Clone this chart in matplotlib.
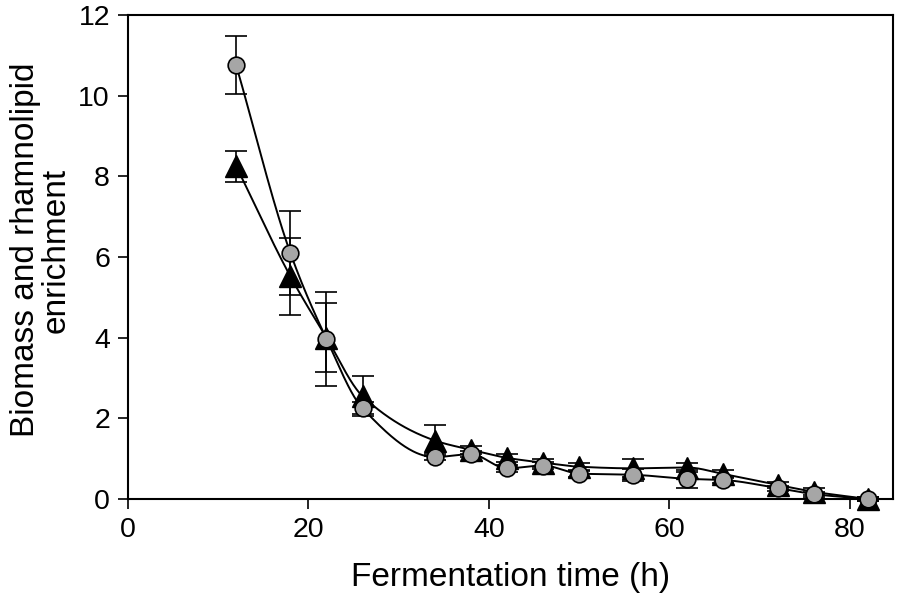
import numpy as np
import matplotlib
matplotlib.use("Agg")
import matplotlib.pyplot as plt

plt.rcParams['font.family'] = ['Liberation Sans', 'DejaVu Sans']

time_h = [12, 18, 22, 26, 34, 38, 42, 46, 50, 56, 62, 66, 72, 76, 82]
triangle_vals = [8.25, 5.52, 4.00, 2.55, 1.45, 1.22, 1.02, 0.90, 0.80, 0.76, 0.78, 0.62, 0.35, 0.18, 0.00]
triangle_err = [0.38, 0.95, 0.85, 0.50, 0.38, 0.10, 0.10, 0.10, 0.10, 0.22, 0.10, 0.10, 0.08, 0.08, 0.05]
circle_vals = [10.75, 6.10, 3.97, 2.25, 1.04, 1.11, 0.76, 0.83, 0.63, 0.60, 0.50, 0.47, 0.27, 0.12, 0.00]
circle_err = [0.72, 1.05, 1.17, 0.15, 0.08, 0.08, 0.08, 0.08, 0.08, 0.15, 0.22, 0.08, 0.06, 0.06, 0.05]

x_ticks = [0, 20, 40, 60, 80]
y_ticks = [0, 2, 4, 6, 8, 10, 12]


def pchip(x, y, xs):
    x = np.asarray(x, float)
    y = np.asarray(y, float)
    h = np.diff(x)
    d = np.diff(y) / h
    n = len(x)
    m = np.zeros(n)
    for k in range(1, n - 1):
        if d[k - 1] * d[k] > 0:
            w1 = 2 * h[k] + h[k - 1]
            w2 = h[k] + 2 * h[k - 1]
            m[k] = (w1 + w2) / (w1 / d[k - 1] + w2 / d[k])
    m[0] = d[0]
    m[-1] = d[-1]
    idx = np.clip(np.searchsorted(x, xs) - 1, 0, n - 2)
    t = (xs - x[idx]) / h[idx]
    h00 = 2 * t**3 - 3 * t**2 + 1
    h10 = t**3 - 2 * t**2 + t
    h01 = -2 * t**3 + 3 * t**2
    h11 = t**3 - t**2
    return h00 * y[idx] + h10 * h[idx] * m[idx] + h01 * y[idx + 1] + h11 * h[idx] * m[idx + 1]


fig = plt.figure(figsize=(8.98, 6.03), dpi=100)
ax = fig.add_axes([0.1425, 0.1725, 0.852, 0.8026])

xs = np.linspace(min(time_h), max(time_h), 600)

ax.plot(xs, pchip(time_h, triangle_vals, xs), color='black', lw=1.4, zorder=2)
ax.plot(xs, pchip(time_h, circle_vals, xs), color='black', lw=1.4, zorder=2)

ax.errorbar(time_h, triangle_vals, yerr=triangle_err, fmt='none', ecolor='black',
            elinewidth=1.2, capsize=8, capthick=1.2, zorder=3)
ax.errorbar(time_h, circle_vals, yerr=circle_err, fmt='none', ecolor='black',
            elinewidth=1.2, capsize=8, capthick=1.2, zorder=3)

ax.plot(time_h, triangle_vals, linestyle='none', marker='^', markersize=16,
        markerfacecolor='black', markeredgecolor='black', markeredgewidth=1, zorder=4)
ax.plot(time_h, circle_vals, linestyle='none', marker='o', markersize=12,
        markerfacecolor='#a6a6a6', markeredgecolor='black', markeredgewidth=1.2, zorder=5)

ax.set_xlim(0, 84.8)
ax.set_ylim(0, 12)
ax.set_xticks(x_ticks)
ax.set_yticks(y_ticks)
ax.tick_params(direction='out', length=7, width=1.2, labelsize=20.5, pad=6)
for s in ax.spines.values():
    s.set_linewidth(1.5)

ax.set_xlabel('Fermentation time (h)', fontsize=24, labelpad=14)
ax.set_ylabel('Biomass and rhamnolipid\nenrichment', fontsize=24, linespacing=1.0)
ax.yaxis.set_label_coords(-0.073, 0.514)

for art in ax.lines + ax.collections:
    art.set_clip_on(False)

fig.savefig('out.png', dpi=100)
